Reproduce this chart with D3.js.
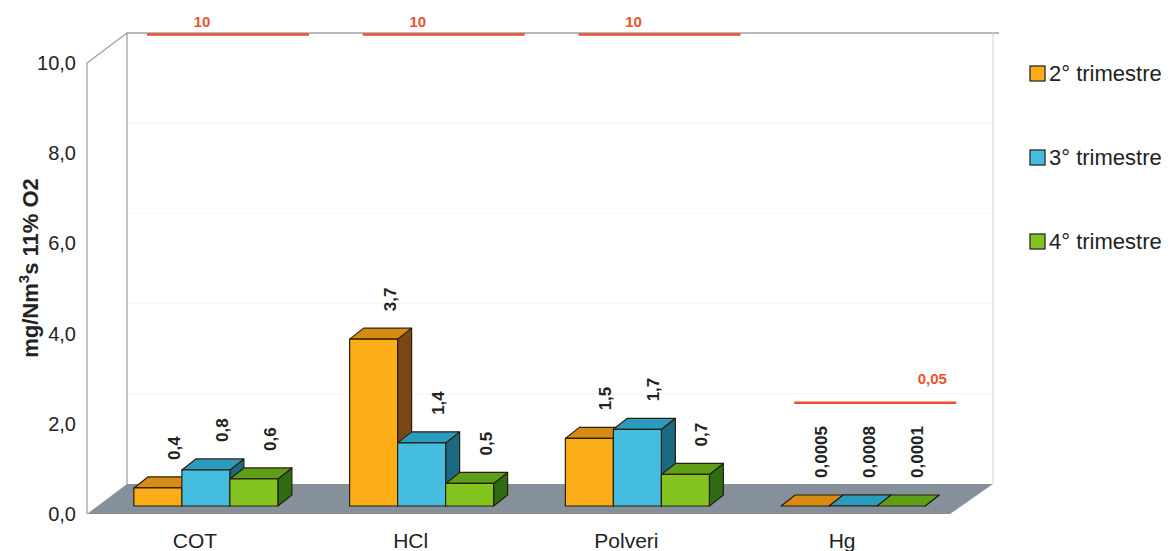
<!DOCTYPE html>
<html>
<head>
<meta charset="utf-8">
<script src="https://cdn.jsdelivr.net/npm/d3@7"></script>
<style>
  body { margin: 0; background: #fff; }
  svg { font-family: "Liberation Sans", Arial, Helvetica, sans-serif; }
</style>
</head>
<body>
<div id="chart"></div>
<script>
// data
const categories = ["COT", "HCl", "Polveri", "Hg"];
const series = ["2° trimestre", "3° trimestre", "4° trimestre"];
const valueQ2 = [0.4, 3.7, 1.5, 0.0005];
const valueQ3 = [0.8, 1.4, 1.7, 0.0008];
const valueQ4 = [0.6, 0.5, 0.7, 0.0001];
const valueLabels = [
  ["0,4", "0,8", "0,6"],
  ["3,7", "1,4", "0,5"],
  ["1,5", "1,7", "0,7"],
  ["0,0005", "0,0008", "0,0001"]
];
const limitLabels = ["10", "10", "10", "0,05"];
const limitLevel = [10, 10, 10, 1.8]; // level at which the limit line is drawn on the wall
const yTicks = [0, 2, 4, 6, 8, 10];

const W = 1174, H = 551;
const plotL = 87, plotR = 950, plotB = 514, plotT = 63;
const depth = {dx: 40, dy: -30};      // floor / wall depth
const barOff = {dx: 11, dy: -8};      // where the bars' front face sits
const barDepth = {dx: 14, dy: -11};   // bar thickness
const barW = 48;

const colors = [
  {front: "#fbad18", top: "#d88b12", side: "#7a4714"},
  {front: "#45bde0", top: "#2a9cc0", side: "#1b6a84"},
  {front: "#84c420", top: "#5f9f18", side: "#2d6c12"}
];
const red = "#e8532b";

const svg = d3.select("#chart").append("svg")
  .attr("width", W).attr("height", H);

const x = d3.scaleBand().domain(categories).range([plotL, plotR]);
const y = d3.scaleLinear().domain([0, 10]).range([plotB, plotT]);

const backL = plotL + depth.dx, backR = plotR + depth.dx + 3;
const yb = v => y(v) + depth.dy;

// floor
svg.append("path")
  .attr("d", `M${plotL},${plotB} L${backL},${plotB + depth.dy} L${backR},${plotB + depth.dy} L${plotR},${plotB} Z`)
  .attr("fill", "#85909a");

// faint wall gridlines
svg.selectAll(".grid").data([2, 4, 6, 8]).enter().append("line")
  .attr("x1", backL).attr("x2", backR)
  .attr("y1", d => yb(d)).attr("y2", d => yb(d))
  .attr("stroke", "#f5f5f5").attr("stroke-width", 1);

// wall outlines
const wall = svg.append("g").attr("stroke", "#9aa2a8").attr("stroke-width", 1.3).attr("fill", "none");
wall.append("path").attr("d", `M${plotL},${plotB} L${plotL},${plotT} L${backL},${yb(10)} L${backR + 6},${yb(10)}`);
wall.append("line").attr("x1", backL).attr("x2", backL).attr("y1", yb(10)).attr("y2", yb(0));
wall.append("line").attr("x1", backR).attr("x2", backR).attr("y1", yb(10)).attr("y2", yb(0)).attr("stroke", "#d8dcdf");

// y axis
const yAxis = svg.append("g")
  .attr("transform", `translate(${plotL},0)`)
  .call(d3.axisLeft(y).tickValues(yTicks).tickSize(0).tickPadding(11)
    .tickFormat(d => d.toFixed(1).replace(".", ",")));
yAxis.select(".domain").remove();
yAxis.selectAll("text").attr("font-size", 20).attr("fill", "#222")
  .attr("font-family", "Liberation Sans, Arial, sans-serif");

// x axis
const xAxis = svg.append("g")
  .attr("transform", `translate(0,${plotB})`)
  .call(d3.axisBottom(x).tickSize(0).tickPadding(19));
xAxis.select(".domain").remove();
xAxis.selectAll("text").attr("font-size", 21).attr("fill", "#222")
  .attr("font-family", "Liberation Sans, Arial, sans-serif");

// y title
const yt = svg.append("text")
  .attr("transform", "translate(38,268) rotate(-90)")
  .attr("text-anchor", "middle")
  .attr("font-size", 22).attr("font-weight", "bold").attr("fill", "#222");
yt.append("tspan").text("mg/Nm");
yt.append("tspan").attr("dy", -9).attr("font-size", 15).text("3");
yt.append("tspan").attr("dy", 9).text("s 11% O2");

// limit lines
categories.forEach((c, i) => {
  const x0 = x(c) + depth.dx + 20, x1 = x(c) + depth.dx + 182;
  const ly = yb(limitLevel[i]) + (limitLevel[i] === 10 ? 1.5 : 0);
  svg.append("line")
    .attr("x1", x0).attr("x2", x1).attr("y1", ly).attr("y2", ly)
    .attr("stroke", red).attr("stroke-width", 2.5);
  const small = limitLevel[i] < 10;
  svg.append("text")
    .attr("x", small ? x1 - 24 : x0 + 55)
    .attr("y", ly - (small ? 19 : 8))
    .attr("text-anchor", "middle")
    .attr("font-size", 15).attr("font-weight", "bold").attr("fill", red)
    .text(limitLabels[i]);
});

// bars
const seriesValues = [valueQ2, valueQ3, valueQ4];
const bars = svg.append("g").attr("stroke", "#2a1f0c").attr("stroke-width", 1.2).attr("stroke-linejoin", "round");
categories.forEach((c, ci) => {
  const gx = x(c) + x.bandwidth() / 2 - barW * 1.5 + barOff.dx;
  seriesValues.forEach((vals, si) => {
    const v = vals[ci];
    const bx = gx + si * barW;
    const by0 = y(0) + barOff.dy;
    const by1 = y(v) + barOff.dy;
    const col = colors[si];
    const dx = barDepth.dx, dy = barDepth.dy;
    // side
    bars.append("path")
      .attr("d", `M${bx + barW},${by0} L${bx + barW + dx},${by0 + dy} L${bx + barW + dx},${by1 + dy} L${bx + barW},${by1} Z`)
      .attr("fill", col.side);
    // top
    bars.append("path")
      .attr("d", `M${bx},${by1} L${bx + dx},${by1 + dy} L${bx + barW + dx},${by1 + dy} L${bx + barW},${by1} Z`)
      .attr("fill", col.top);
    // front
    if (by0 - by1 > 0.5) {
      bars.append("rect")
        .attr("x", bx).attr("y", by1).attr("width", barW).attr("height", by0 - by1)
        .attr("fill", col.front);
    }
    // value label
    svg.append("text")
      .attr("transform", `translate(${bx + barW / 2 + dx + 8},${by1 + dy - 17}) rotate(-90)`)
      .attr("text-anchor", "start")
      .attr("font-size", 17).attr("font-weight", "bold").attr("fill", "#222")
      .text(valueLabels[ci][si]);
  });
});

// legend
const lg = svg.append("g").attr("transform", "translate(1030,66)");
series.forEach((s, i) => {
  const row = lg.append("g").attr("transform", `translate(0,${i * 84})`);
  row.append("rect").attr("width", 15).attr("height", 15)
    .attr("fill", colors[i].front).attr("stroke", "#2a2a2a").attr("stroke-width", 1.3);
  row.append("text").attr("x", 19).attr("y", 15)
    .attr("font-size", 22).attr("fill", "#222").text(s);
});
</script>
</body>
</html>
